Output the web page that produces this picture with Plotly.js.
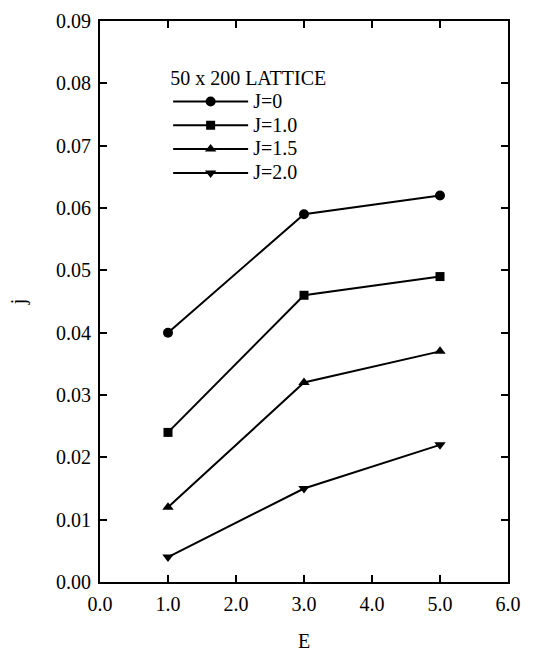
<!DOCTYPE html>
<html><head><meta charset="utf-8">
<script src="https://cdn.plot.ly/plotly-3.0.1.min.js"></script>
<style>html,body{margin:0;padding:0;background:#fff}#chart{width:534px;height:652px}</style>
</head><body><div id="chart"></div>
<script>
const E = [1.0, 3.0, 5.0];
const j_J0 = [0.040, 0.059, 0.062];
const j_J10 = [0.024, 0.046, 0.049];
const j_J15 = [0.012, 0.032, 0.037];
const j_J20 = [0.004, 0.015, 0.022];
const seriesNames = ["J=0", "J=1.0", "J=1.5", "J=2.0"];
const symbols = ["circle", "square", "triangle-up", "triangle-down"];
const legendTitle = "50 x 200 LATTICE";
const xTicks = [0, 1, 2, 3, 4, 5, 6];
const xTickText = ["0.0", "1.0", "2.0", "3.0", "4.0", "5.0", "6.0"];
const yTicks = [0, 0.01, 0.02, 0.03, 0.04, 0.05, 0.06, 0.07, 0.08, 0.09];
const yTickText = ["0.00", "0.01", "0.02", "0.03", "0.04", "0.05", "0.06", "0.07", "0.08", "0.09"];

const ys = [j_J0, j_J10, j_J15, j_J20];
const traces = ys.map((y, i) => ({
  x: E, y: y, name: '<span style="font-size:20px">' + seriesNames[i] + '</span>',
  type: 'scatter', mode: 'lines+markers',
  line: {color: '#000', width: 2},
  marker: {symbol: symbols[i], size: i === 1 ? 9 : 10, color: '#000'}
}));

const fam = "'Liberation Serif', 'Times New Roman', serif";
const font = {family: fam, size: 20, color: '#000'};
const axisCommon = {
  showline: true, linecolor: '#000', linewidth: 2, mirror: 'allticks',
  ticks: 'inside', ticklen: 7, tickwidth: 2, tickcolor: '#000',
  showgrid: false, zeroline: false, tickfont: font, ticklabelstandoff: 3
};
const layout = {
  width: 534, height: 652,
  margin: {l: 100, r: 26, t: 21, b: 70},
  paper_bgcolor: '#fff', plot_bgcolor: '#fff',
  font: font,
  showlegend: true,
  legend: {
    x: 0.167, y: 0.933, xanchor: 'left', yanchor: 'top',
    bgcolor: 'rgba(0,0,0,0)', borderwidth: 0,
    title: {text: legendTitle, font: font, side: 'top'},
    font: {family: fam, size: 16, color: '#000'}, itemwidth: 75, tracegroupgap: 0
  },
  xaxis: Object.assign({}, axisCommon, {
    range: [0, 6], tickvals: xTicks, ticktext: xTickText,
    title: {text: 'E', font: font, standoff: 40}
  }),
  yaxis: Object.assign({}, axisCommon, {
    range: [0, 0.09], tickvals: yTicks, ticktext: yTickText,
    title: {text: 'j', font: font, standoff: 25}
  })
};
Plotly.newPlot('chart', traces, layout, {displayModeBar: false, staticPlot: true});
</script></body></html>
